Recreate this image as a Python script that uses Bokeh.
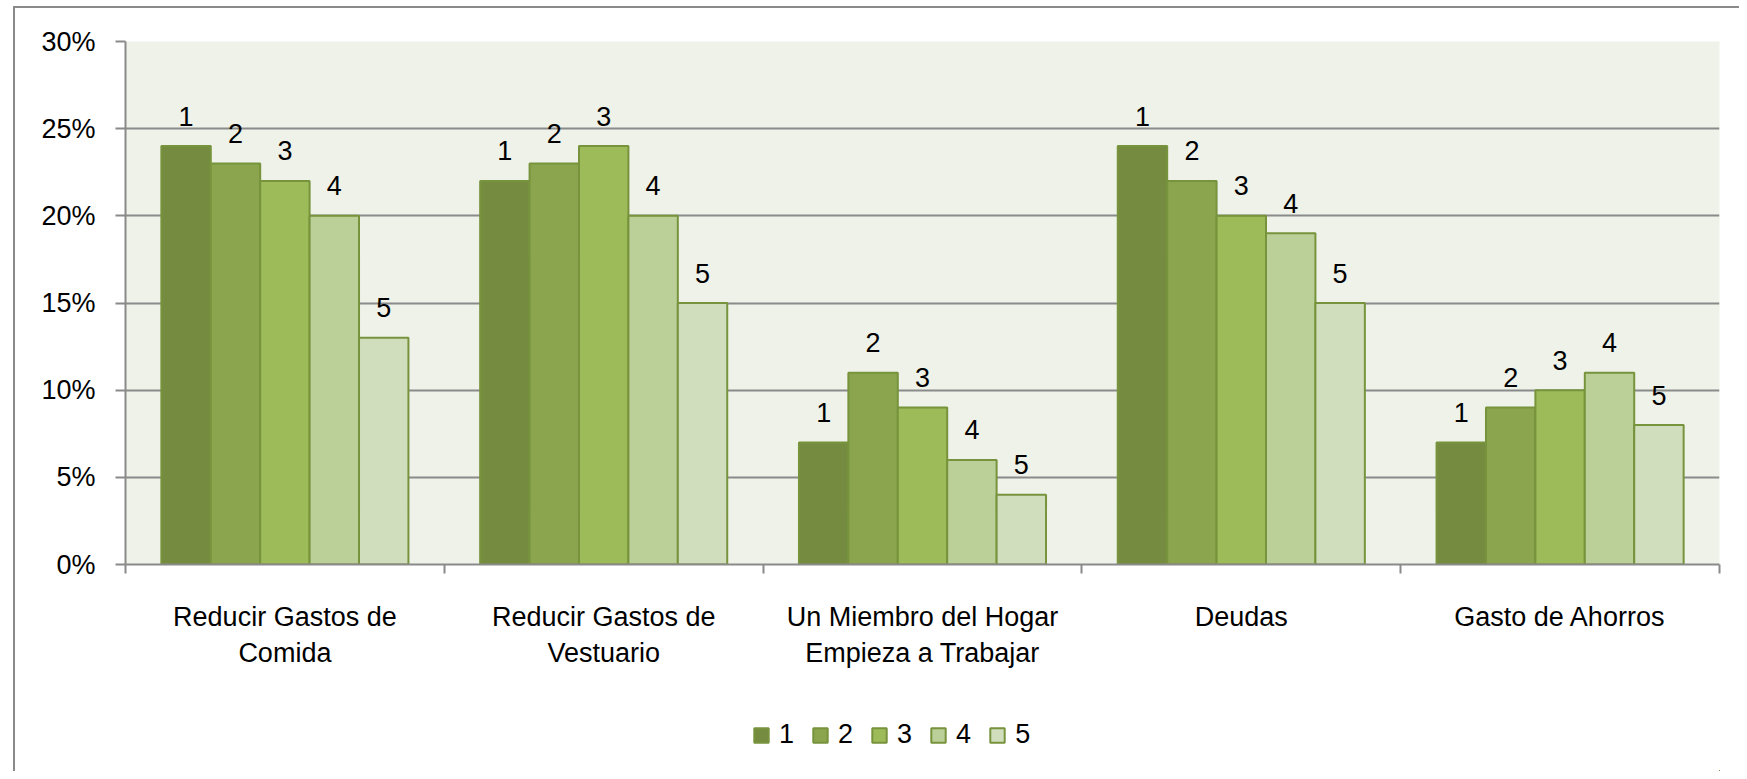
from bokeh.plotting import figure
from bokeh.layouts import column
from bokeh.models import (Range1d, FixedTicker, PrintfTickFormatter, Legend, LegendItem,
                          ColumnDataSource)
from bokeh.transform import dodge
from bokeh.core.properties import value
from bokeh.embed import file_html
from bokeh.resources import INLINE

# ---------------- data ----------------
categories = ["Reducir Gastos de\nComida",
              "Reducir Gastos de\nVestuario",
              "Un Miembro del Hogar\nEmpieza a Trabajar",
              "Deudas",
              "Gasto de Ahorros"]
series_names = ["1", "2", "3", "4", "5"]
s1 = [24, 22, 7, 24, 7]
s2 = [23, 23, 11, 22, 9]
s3 = [22, 24, 9, 20, 10]
s4 = [20, 20, 6, 19, 11]
s5 = [13, 15, 4, 15, 8]
y_ticks = [0, 5, 10, 15, 20, 25, 30]

# ---------------- style ----------------
FONT = "Liberation Sans"
FS = "27px"
GRAY = "#8A8A8A"
OUTLINE = "#77933C"
colors = ["#758C40", "#8AA54E", "#9DBB59", "#BBCF98", "#D1DEBE"]

n_cat = len(categories)
centers = [i + 0.5 for i in range(n_cat)]
bounds = list(range(n_cat + 1))

source = ColumnDataSource(dict(xc=centers, s1=s1, s2=s2, s3=s3, s4=s4, s5=s5))
keys = ["s1", "s2", "s3", "s4", "s5"]

p = figure(x_range=Range1d(0, n_cat), y_range=Range1d(0, 30),
           width=1724, height=692,
           output_backend="svg", toolbar_location=None,
           min_border_left=110, min_border_right=20,
           min_border_top=33, min_border_bottom=136)

p.background_fill_color = "#EEF2E8"
p.border_fill_color = "white"
p.outline_line_color = None

# y axis
yax = p.yaxis[0]
yax.ticker = FixedTicker(ticks=y_ticks)
yax.formatter = PrintfTickFormatter(format="%d%%")
yax.axis_line_color = GRAY
yax.axis_line_width = 2
yax.major_tick_line_color = GRAY
yax.major_tick_line_width = 2
yax.major_tick_out = 10
yax.major_tick_in = 0
yax.minor_tick_line_color = None
yax.major_label_text_font = FONT
yax.major_label_text_font_size = FS
yax.major_label_text_color = "black"
yax.major_label_standoff = 20

p.ygrid.ticker = FixedTicker(ticks=y_ticks)
p.ygrid.grid_line_color = GRAY
p.ygrid.grid_line_width = 2
p.xgrid.visible = False

# x axis: labels at centres, ticks at boundaries
xax = p.xaxis[0]
xax.ticker = FixedTicker(ticks=centers, minor_ticks=bounds)
xax.major_label_overrides = {c: lab for c, lab in zip(centers, categories)}
xax.axis_line_color = GRAY
xax.axis_line_width = 2
xax.major_tick_line_color = None
xax.major_tick_out = 0
xax.major_tick_in = 0
xax.minor_tick_line_color = GRAY
xax.minor_tick_line_width = 2
xax.minor_tick_out = 9
xax.minor_tick_in = 0
xax.major_label_text_font = FONT
xax.major_label_text_font_size = FS
xax.major_label_text_color = "black"
xax.major_label_standoff = 28

# bars + data labels
bar_w = 0.155
for i, (name, key) in enumerate(zip(series_names, keys)):
    off = (i - (len(keys) - 1) / 2) * bar_w
    p.vbar(x=dodge("xc", off), top=key, width=bar_w, bottom=0,
           source=source, fill_color=colors[i], line_color=OUTLINE, line_width=2)
    p.text(x=dodge("xc", off), y=key, text=value(name), source=source,
           text_font=value(FONT), text_font_size=value(FS), text_color="black",
           text_align="center", text_baseline="alphabetic", y_offset=-30)

# ---------------- legend strip ----------------
# same series drawn far outside this strip's view so the legend keys come from real renderers
pl = figure(width=1724, height=71, output_backend="svg", toolbar_location=None,
            x_range=Range1d(-20, -10), y_range=Range1d(1000, 2000),
            x_axis_location=None, y_axis_location=None,
            min_border_left=0, min_border_right=0, min_border_top=0, min_border_bottom=0)
pl.outline_line_color = None
pl.background_fill_color = "white"
pl.border_fill_color = "white"
pl.xgrid.visible = False
pl.ygrid.visible = False
items = []
for i, (name, key) in enumerate(zip(series_names, keys)):
    r = pl.vbar(x="xc", top=key, width=bar_w, source=source,
                fill_color=colors[i], line_color=OUTLINE, line_width=2)
    items.append(LegendItem(label=name, renderers=[r]))

legend = Legend(items=items,
                orientation="horizontal", location=(627, 21),
                border_line_color=None, background_fill_alpha=0,
                padding=0, margin=0, glyph_width=18, glyph_height=18,
                label_standoff=9, spacing=17, label_width=15,
                label_text_font=FONT, label_text_font_size=FS,
                label_text_baseline="alphabetic",
                label_text_color="black")
pl.add_layout(legend)

page = column(p, pl, spacing=0)
page.styles = {"border-left": "2px solid " + GRAY, "border-top": "2px solid " + GRAY,
               "margin-left": "13px", "margin-top": "6px"}

open("out.html", "w").write(file_html(page, INLINE))
